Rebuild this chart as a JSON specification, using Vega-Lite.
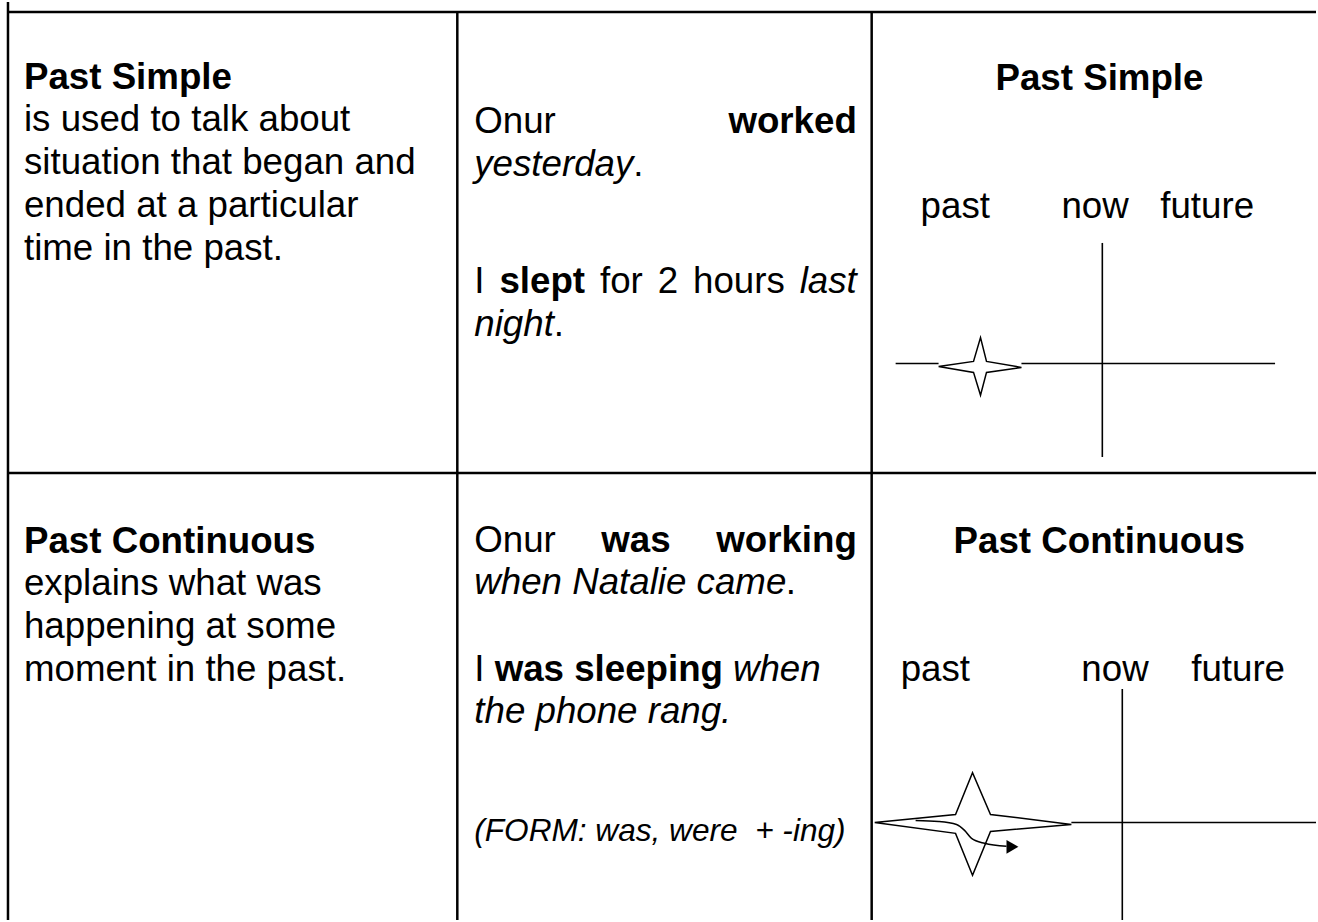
{
  "$schema": "https://vega.github.io/schema/vega-lite/v6.json",
  "width": 1318,
  "height": 922,
  "autosize": {"type": "fit", "contains": "padding"},
  "padding": 0,
  "background": "white",
  "config": {"view": {"stroke": null}},
  "datasets": {
    "rules": [
      {"kind": "border", "x": 8, "x2": 1318, "y": 10, "y2": 10},
      {"kind": "border", "x": 8, "x2": 1318, "y": 473, "y2": 473},
      {"kind": "border", "x": 8, "x2": 8, "y": 0, "y2": 922},
      {"kind": "border", "x": 458, "x2": 458, "y": 10, "y2": 922},
      {"kind": "border", "x": 873, "x2": 873, "y": 10, "y2": 922},
      {"kind": "timeline", "x": 1104, "x2": 1104, "y": 242, "y2": 457},
      {"kind": "timeline", "x": 897, "x2": 940, "y": 363, "y2": 363},
      {"kind": "timeline", "x": 1023, "x2": 1277, "y": 363, "y2": 363},
      {"kind": "timeline", "x": 1124, "x2": 1124, "y": 690, "y2": 922},
      {"kind": "timeline", "x": 1073, "x2": 1318, "y": 824, "y2": 824}
    ],
    "shapes": [
      {"shape": "star1", "i": 0, "x": 940, "y": 366},
      {"shape": "star1", "i": 1, "x": 975, "y": 361},
      {"shape": "star1", "i": 2, "x": 982, "y": 337},
      {"shape": "star1", "i": 3, "x": 988, "y": 361},
      {"shape": "star1", "i": 4, "x": 1023, "y": 367},
      {"shape": "star1", "i": 5, "x": 988, "y": 372},
      {"shape": "star1", "i": 6, "x": 982, "y": 395},
      {"shape": "star1", "i": 7, "x": 975, "y": 372},
      {"shape": "star1", "i": 8, "x": 940, "y": 366},
      {"shape": "star2", "i": 0, "x": 876, "y": 824},
      {"shape": "star2", "i": 1, "x": 957, "y": 816},
      {"shape": "star2", "i": 2, "x": 974, "y": 774},
      {"shape": "star2", "i": 3, "x": 992, "y": 816},
      {"shape": "star2", "i": 4, "x": 1073, "y": 826},
      {"shape": "star2", "i": 5, "x": 992, "y": 833},
      {"shape": "star2", "i": 6, "x": 974, "y": 877},
      {"shape": "star2", "i": 7, "x": 957, "y": 835},
      {"shape": "star2", "i": 8, "x": 876, "y": 824},
      {"shape": "arrow", "i": 0, "x": 917, "y": 822},
      {"shape": "arrow", "i": 1, "x": 940, "y": 823},
      {"shape": "arrow", "i": 2, "x": 958, "y": 826},
      {"shape": "arrow", "i": 3, "x": 966, "y": 832},
      {"shape": "arrow", "i": 4, "x": 973, "y": 840},
      {"shape": "arrow", "i": 5, "x": 986, "y": 845},
      {"shape": "arrow", "i": 6, "x": 1008, "y": 848}
    ],
    "heads": [
      {"x": 1014, "y": 848.5}
    ],
    "texts": [
      {"role": "term", "x": 24, "y": 87, "text": "Past Simple"},
      {"role": "desc", "x": 24, "y": 130, "text": "is used to talk about"},
      {"role": "desc", "x": 24, "y": 173, "text": "situation that began and"},
      {"role": "desc", "x": 24, "y": 216, "text": "ended at a particular"},
      {"role": "desc", "x": 24, "y": 259, "text": "time in the past."},
      {"role": "term", "x": 24, "y": 553, "text": "Past Continuous"},
      {"role": "desc", "x": 24, "y": 596, "text": "explains what was"},
      {"role": "desc", "x": 24, "y": 639, "text": "happening at some"},
      {"role": "desc", "x": 24, "y": 682, "text": "moment in the past."},

      {"role": "word", "x": 475, "y": 132, "text": "Onur"},
      {"role": "verb", "x": 729.5, "y": 132, "text": "worked"},
      {"role": "time", "x": 475, "y": 175, "text": "yesterday"},
      {"role": "word", "x": 634.1, "y": 175, "text": "."},
      {"role": "word", "x": 475, "y": 292, "text": "I"},
      {"role": "verb", "x": 500.2, "y": 292, "text": "slept"},
      {"role": "word", "x": 600.9, "y": 292, "text": "for"},
      {"role": "word", "x": 658.7, "y": 292, "text": "2"},
      {"role": "word", "x": 694.1, "y": 292, "text": "hours"},
      {"role": "time", "x": 800.9, "y": 292, "text": "last"},
      {"role": "time", "x": 475, "y": 335, "text": "night"},
      {"role": "word", "x": 554.6, "y": 335, "text": "."},

      {"role": "word", "x": 475, "y": 552, "text": "Onur"},
      {"role": "verb", "x": 602.2, "y": 552, "text": "was"},
      {"role": "verb", "x": 717.3, "y": 552, "text": "working"},
      {"role": "time", "x": 475, "y": 595, "text": "when Natalie came"},
      {"role": "word", "x": 787, "y": 595, "text": "."},
      {"role": "word", "x": 475, "y": 682, "text": "I"},
      {"role": "verb", "x": 495.4, "y": 682, "text": "was sleeping"},
      {"role": "time", "x": 734, "y": 682, "text": "when"},
      {"role": "time", "x": 475, "y": 724, "text": "the phone rang."},
      {"role": "note", "x": 475, "y": 843, "text": "(FORM: was, were \u00a0+ -ing)"},

      {"role": "title", "x": 997, "y": 88, "text": "Past Simple"},
      {"role": "label", "x": 922, "y": 217, "text": "past"},
      {"role": "label", "x": 1063, "y": 217, "text": "now"},
      {"role": "label", "x": 1162, "y": 217, "text": "future"},
      {"role": "title", "x": 955, "y": 553, "text": "Past Continuous"},
      {"role": "label", "x": 902, "y": 682, "text": "past"},
      {"role": "label", "x": 1083, "y": 682, "text": "now"},
      {"role": "label", "x": 1193, "y": 682, "text": "future"}
    ]
  },
  "encoding": {
    "x": {"field": "x", "type": "quantitative", "axis": null, "scale": {"domain": [0, 1318], "nice": false, "zero": false}},
    "y": {"field": "y", "type": "quantitative", "axis": null, "scale": {"domain": [0, 922], "nice": false, "zero": false, "reverse": true}}
  },
  "layer": [
    {
      "data": {"name": "rules"},
      "transform": [{"filter": "datum.kind === 'border'"}],
      "mark": {"type": "rule", "color": "black", "strokeWidth": 2.5},
      "encoding": {"x2": {"field": "x2"}, "y2": {"field": "y2"}}
    },
    {
      "data": {"name": "rules"},
      "transform": [{"filter": "datum.kind === 'timeline'"}],
      "mark": {"type": "rule", "color": "black", "strokeWidth": 1.6},
      "encoding": {"x2": {"field": "x2"}, "y2": {"field": "y2"}}
    },
    {
      "data": {"name": "shapes"},
      "transform": [{"filter": "datum.shape !== 'arrow'"}],
      "mark": {"type": "line", "color": "black", "strokeWidth": 1.5, "interpolate": "linear", "strokeJoin": "miter"},
      "encoding": {"order": {"field": "i", "type": "quantitative"}, "detail": {"field": "shape"}}
    },
    {
      "data": {"name": "shapes"},
      "transform": [{"filter": "datum.shape === 'arrow'"}],
      "mark": {"type": "line", "color": "black", "strokeWidth": 1.5, "interpolate": "monotone"},
      "encoding": {"order": {"field": "i", "type": "quantitative"}}
    },
    {
      "data": {"name": "heads"},
      "mark": {"type": "point", "shape": "triangle-right", "filled": true, "color": "black", "opacity": 1, "size": 190}
    },
    {
      "data": {"name": "texts"},
      "transform": [{"filter": "datum.role === 'desc' || datum.role === 'word' || datum.role === 'label'"}],
      "mark": {"type": "text", "align": "left", "baseline": "alphabetic", "font": "Liberation Sans", "fontSize": 36.7, "color": "black"},
      "encoding": {"text": {"field": "text"}}
    },
    {
      "data": {"name": "texts"},
      "transform": [{"filter": "datum.role === 'term' || datum.role === 'verb' || datum.role === 'title'"}],
      "mark": {"type": "text", "align": "left", "baseline": "alphabetic", "font": "Liberation Sans", "fontSize": 36.7, "fontWeight": "bold", "color": "black"},
      "encoding": {"text": {"field": "text"}}
    },
    {
      "data": {"name": "texts"},
      "transform": [{"filter": "datum.role === 'time'"}],
      "mark": {"type": "text", "align": "left", "baseline": "alphabetic", "font": "Liberation Sans", "fontSize": 36.7, "fontStyle": "italic", "color": "black"},
      "encoding": {"text": {"field": "text"}}
    },
    {
      "data": {"name": "texts"},
      "transform": [{"filter": "datum.role === 'note'"}],
      "mark": {"type": "text", "align": "left", "baseline": "alphabetic", "font": "Liberation Sans", "fontSize": 31.6, "fontStyle": "italic", "color": "black"},
      "encoding": {"text": {"field": "text"}}
    }
  ]
}
